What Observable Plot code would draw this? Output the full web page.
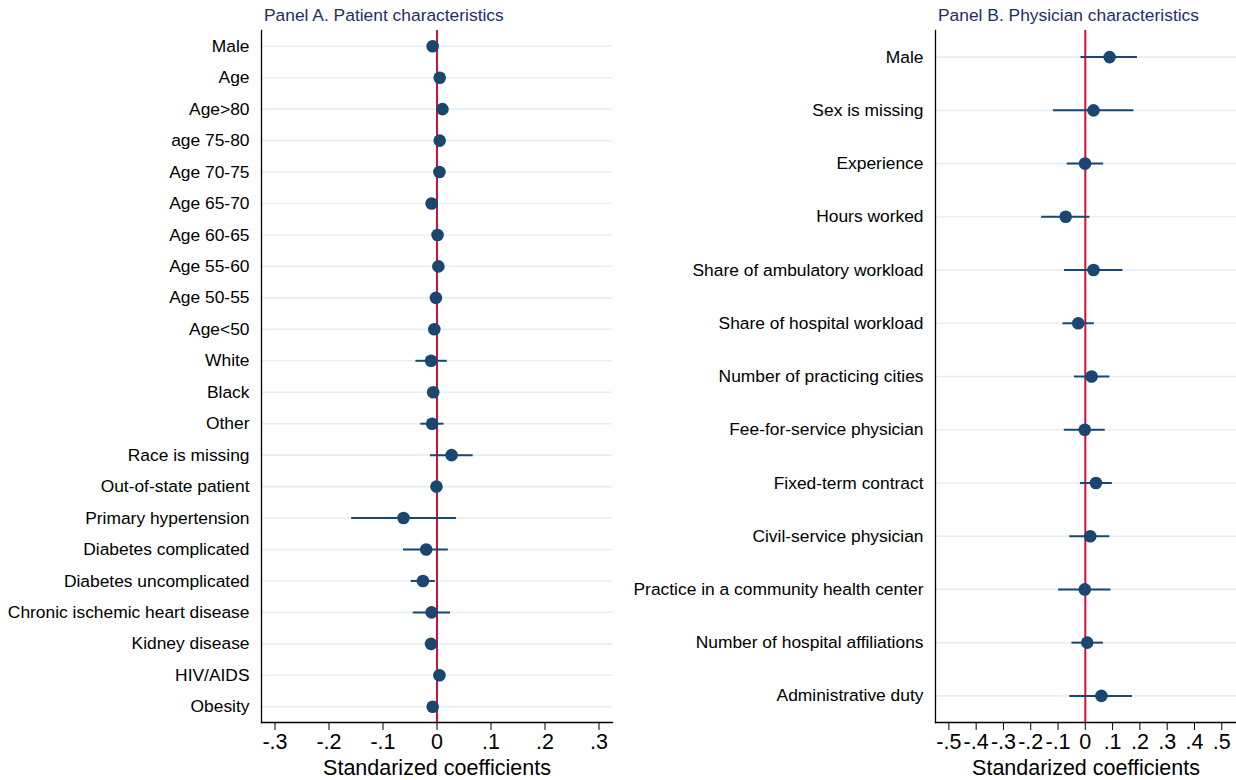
<!DOCTYPE html>
<html>
<head>
<meta charset="utf-8">
<script src="https://cdn.jsdelivr.net/npm/d3@7"></script>
<script src="https://cdn.jsdelivr.net/npm/@observablehq/plot@0.6"></script>
<style>
  html, body { margin: 0; padding: 0; background: #fff; }
  #wrap { position: relative; width: 1236px; height: 780px; overflow: hidden; font-family: "Liberation Sans", Arial, sans-serif; }
  .panel { position: absolute; top: 0; }
  .title { position: absolute; top: 4px; font-size: 17.4px; line-height: 22px; color: #1f2f5f; white-space: nowrap; }
</style>
</head>
<body>
<div id="wrap">
  <div class="title" style="left:264px">Panel A. Patient characteristics</div>
  <div class="title" style="left:938px">Panel B. Physician characteristics</div>
  <div class="panel" id="panelA" style="left:0px"></div>
  <div class="panel" id="panelB" style="left:620px"></div>
</div>
<script>
// Panel A: patient characteristics (standardized coefficients with 95% CIs)
const patientLabels = [
  "Male", "Age", "Age>80", "age 75-80", "Age 70-75", "Age 65-70", "Age 60-65",
  "Age 55-60", "Age 50-55", "Age<50", "White", "Black", "Other", "Race is missing",
  "Out-of-state patient", "Primary hypertension", "Diabetes complicated",
  "Diabetes uncomplicated", "Chronic ischemic heart disease", "Kidney disease",
  "HIV/AIDS", "Obesity"
];
const patientCoef = [
  -0.008, 0.005, 0.010, 0.005, 0.0045, -0.010, 0.001,
  0.0025, -0.002, -0.005, -0.011, -0.007, -0.009, 0.027,
  -0.001, -0.062, -0.020,
  -0.026, -0.010, -0.011,
  0.0045, -0.008
];
const patientLo = [
  -0.011, 0.002, 0.006, 0.001, 0.001, -0.013, -0.002,
  -0.001, -0.005, -0.008, -0.039, -0.010, -0.030, -0.012,
  -0.004, -0.158, -0.062,
  -0.048, -0.044, -0.014,
  0.001, -0.011
];
const patientHi = [
  -0.005, 0.008, 0.014, 0.009, 0.008, -0.007, 0.004,
  0.006, 0.001, -0.002, 0.019, -0.004, 0.013, 0.067,
  0.002, 0.036, 0.021,
  -0.003, 0.025, -0.008,
  0.008, -0.005
];

// Panel B: physician characteristics
const physicianLabels = [
  "Male", "Sex is missing", "Experience", "Hours worked",
  "Share of ambulatory workload", "Share of hospital workload",
  "Number of practicing cities", "Fee-for-service physician",
  "Fixed-term contract", "Civil-service physician",
  "Practice in a community health center", "Number of hospital affiliations",
  "Administrative duty"
];
const physicianCoef = [0.089, 0.030, -0.001, -0.072, 0.030, -0.026, 0.023, -0.002, 0.039, 0.018, -0.002, 0.007, 0.059];
const physicianLo   = [-0.016, -0.117, -0.066, -0.160, -0.076, -0.082, -0.040, -0.077, -0.018, -0.057, -0.098, -0.049, -0.057];
const physicianHi   = [0.191, 0.178, 0.067, 0.017, 0.138, 0.033, 0.090, 0.073, 0.099, 0.090, 0.094, 0.066, 0.173];

const ticksA = [-0.3, -0.2, -0.1, 0, 0.1, 0.2, 0.3];
const ticksB = [-0.5, -0.4, -0.3, -0.2, -0.1, 0, 0.1, 0.2, 0.3, 0.4, 0.5];
const axisTitle = "Standarized coefficients";

const navy = "#1a476f";
const red = "#d0103a";
const grid = "#e7eef3";
const font = "'Liberation Sans', Arial, sans-serif";

// Stata-style tick labels with a plain hyphen: ".1", "-.2", "0"
const fmtNum = d3.formatLocale({decimal: ".", thousands: ",", grouping: [3], currency: ["", ""], minus: "-"}).format(".1f");
const fmt = d => d === 0 ? "0" : fmtNum(d).replace("0.", ".");

function coefPlot({labels, coef, lo, hi, ticks, domain, width, marginLeft, marginRight}) {
  const rows = labels.map((label, i) => ({label, coef: coef[i], lo: lo[i], hi: hi[i]}));
  return Plot.plot({
    width, height: 780,
    marginLeft, marginRight, marginTop: 30, marginBottom: 58,
    style: {fontFamily: font, background: "transparent", color: "#000"},
    x: {domain},
    y: {type: "point", domain: labels, padding: 0.5, round: false},
    marks: [
      Plot.gridY({stroke: grid, strokeOpacity: 1, strokeWidth: 1.6}),
      Plot.ruleX([0], {stroke: red, strokeWidth: 2}),
      Plot.ruleY(rows, {y: "label", x1: "lo", x2: "hi", stroke: navy, strokeWidth: 2}),
      Plot.dot(rows, {x: "coef", y: "label", r: 6.3, fill: navy, stroke: "none"}),
      Plot.frame({anchor: "left", stroke: "#000", strokeWidth: 1.3}),
      Plot.frame({anchor: "bottom", stroke: "#000", strokeWidth: 1.3}),
      Plot.axisY({tickSize: 0, tickPadding: 12, fontSize: 17.4, label: null}),
      Plot.axisX({ticks, tickFormat: fmt, tickSize: 8, tickPadding: 3, fontSize: 21.5, label: null}),
      Plot.axisX({ticks: [], tickSize: 0, fontSize: 21.5, label: axisTitle, labelAnchor: "center", labelArrow: false, labelOffset: 52})
    ]
  });
}

document.getElementById("panelA").appendChild(coefPlot({
  labels: patientLabels, coef: patientCoef, lo: patientLo, hi: patientHi,
  ticks: ticksA, domain: [-0.325, 0.325], width: 620, marginLeft: 261, marginRight: 8
}));
document.getElementById("panelB").appendChild(coefPlot({
  labels: physicianLabels, coef: physicianCoef, lo: physicianLo, hi: physicianHi,
  ticks: ticksB, domain: [-0.549, 0.554], width: 616, marginLeft: 315, marginRight: 0
}));
</script>
</body>
</html>
